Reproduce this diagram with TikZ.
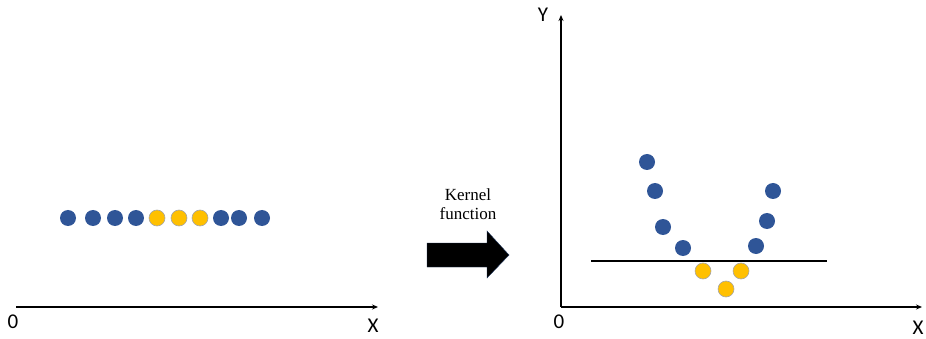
\documentclass[tikz,border=0pt]{standalone}
\usepackage{fontspec}
\setmainfont{Liberation Serif}
\newfontfamily\axisfont{Carlito}
\usetikzlibrary{arrows.meta,positioning}

\begin{document}
\begin{tikzpicture}[x=1pt,y=-1pt,>=Stealth,
    axis/.style={line width=1.4pt,-{Stealth[length=6pt,width=5pt]}},
    lbl/.style={font=\axisfont\fontsize{21}{23}\selectfont,inner sep=0pt},
    bdot/.style={circle,fill=dotblue,minimum size=16pt,inner sep=0pt},
    ydot/.style={circle,fill=dotyellow,draw=gray!70,line width=0.6pt,minimum size=16pt,inner sep=0pt}]
  \definecolor{dotblue}{HTML}{2F5597}
  \definecolor{dotyellow}{HTML}{FFC000}
  \useasboundingbox (0,0) rectangle (926,339);
  % left panel: points on a line
  \coordinate (o1) at (16,307);
  \coordinate (x1) at (378,307);
  \draw[axis] (o1) -- (x1);
  \node[lbl] (zero1) at (13,322) {0};
  \node[lbl] (xlab1) at (373,326) {X};
  \foreach \px/\st [count=\i] in {68/bdot,93/bdot,115/bdot,136/bdot,157/ydot,179/ydot,200/ydot,221/bdot,239/bdot,262/bdot}
    \node[\st] (p\i) at (\px,218) {};
  % kernel arrow
  \node[align=center,font=\fontsize{17}{19}\selectfont] (kern) at (468,204) {Kernel\\function};
  \fill[black,draw=dotblue!60!black,line width=0.4pt] (427,243) -- (487,243) -- (487,231) -- (509,255)
    -- (487,278) -- (487,267) -- (427,267) -- cycle;
  % right panel: mapped points
  \coordinate (o2) at (561,307);
  \coordinate (x2) at (922,307);
  \coordinate (y2) at (561,15);
  \draw[axis] (o2) -- (x2);
  \draw[axis] (o2) -- (y2);
  \node[lbl] (zero2) at (559,322) {0};
  \node[lbl] (xlab2) at (918,328) {X};
  \node[lbl] (ylab2) at (543,15) {Y};
  \coordinate (s1) at (591,261);
  \coordinate (s2) at (827,261);
  \draw[line width=1.4pt] (s1) -- (s2);
  \foreach \px/\py/\st [count=\i] in {647/162/bdot,655/191/bdot,663/227/bdot,683/248/bdot,703/271/ydot,
      726/289/ydot,741/271/ydot,756/246/bdot,767/221/bdot,773/191/bdot}
    \node[\st] (q\i) at (\px,\py) {};
\end{tikzpicture}
\end{document}
